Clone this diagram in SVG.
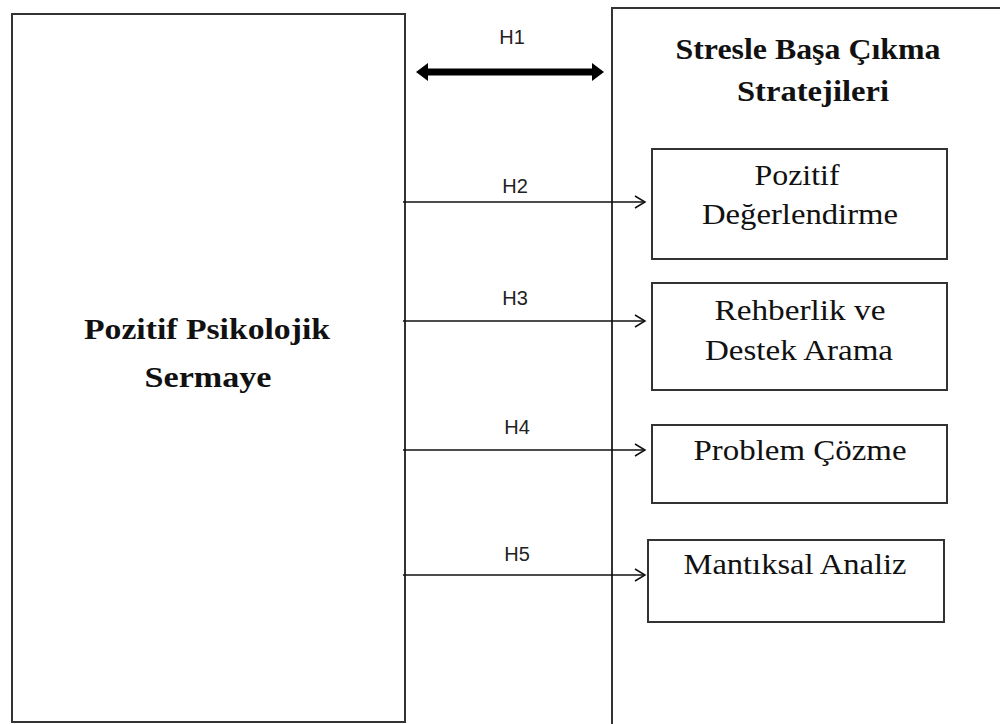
<svg xmlns="http://www.w3.org/2000/svg" width="1000" height="724" viewBox="0 0 1000 724">
<style>
.box{fill:#fff;stroke:#333;stroke-width:2}
.t{font-family:"Liberation Serif",serif;font-size:30px;fill:#111;text-anchor:middle}
.b{font-weight:bold}
.h{font-family:"Liberation Sans",sans-serif;font-size:20px;fill:#222;text-anchor:middle}
.c{stroke:#111;stroke-width:1.5;fill:none}
</style>
<defs>
<marker id="open" markerWidth="14" markerHeight="14" refX="12" refY="7" orient="auto" markerUnits="userSpaceOnUse">
<path d="M2,1 L12,7 L2,13" fill="none" stroke="#111" stroke-width="1.5"/>
</marker>
</defs>
<rect width="1000" height="724" fill="#fff"/>
<g id="left">
<rect class="box" x="12" y="14" width="393" height="708"/>
<text class="t b" x="207" y="339" textLength="246" lengthAdjust="spacingAndGlyphs">Pozitif Psikolojik</text>
<text class="t b" x="208" y="387" textLength="127" lengthAdjust="spacingAndGlyphs">Sermaye</text>
</g>
<g id="right">
<rect class="box" x="612" y="8" width="400" height="730"/>
<text class="t b" x="808" y="59" textLength="265" lengthAdjust="spacingAndGlyphs">Stresle Başa Çıkma</text>
<text class="t b" x="813" y="101" textLength="152" lengthAdjust="spacingAndGlyphs">Stratejileri</text>
</g>
<g id="n2">
<rect class="box" x="652" y="149" width="295" height="110"/>
<text class="t" x="797" y="185" textLength="85" lengthAdjust="spacingAndGlyphs">Pozitif</text>
<text class="t" x="800" y="224" textLength="196" lengthAdjust="spacingAndGlyphs">Değerlendirme</text>
</g>
<g id="n3">
<rect class="box" x="652" y="283" width="295" height="107"/>
<text class="t" x="800" y="320" textLength="171" lengthAdjust="spacingAndGlyphs">Rehberlik ve</text>
<text class="t" x="799" y="360" textLength="188" lengthAdjust="spacingAndGlyphs">Destek Arama</text>
</g>
<g id="n4">
<rect class="box" x="652" y="425" width="295" height="78"/>
<text class="t" x="800" y="460" textLength="213" lengthAdjust="spacingAndGlyphs">Problem Çözme</text>
</g>
<g id="n5">
<rect class="box" x="648" y="540" width="296" height="82"/>
<text class="t" x="795" y="574" textLength="223" lengthAdjust="spacingAndGlyphs">Mantıksal Analiz</text>
</g>
<g id="connectors">
<line x1="424" y1="72" x2="596" y2="72" stroke="#000" stroke-width="7"/>
<path d="M416,72 L428,63 L428,81 Z" fill="#000"/>
<path d="M604,72 L592,63 L592,81 Z" fill="#000"/>
<text class="h" x="512" y="44">H1</text>
<line class="c" x1="403" y1="202" x2="645" y2="202" marker-end="url(#open)"/>
<text class="h" x="515" y="193">H2</text>
<line class="c" x1="403" y1="321" x2="645" y2="321" marker-end="url(#open)"/>
<text class="h" x="515" y="305">H3</text>
<line class="c" x1="403" y1="450" x2="645" y2="450" marker-end="url(#open)"/>
<text class="h" x="517" y="434">H4</text>
<line class="c" x1="403" y1="575" x2="645" y2="575" marker-end="url(#open)"/>
<text class="h" x="517" y="561">H5</text>
</g>
</svg>
